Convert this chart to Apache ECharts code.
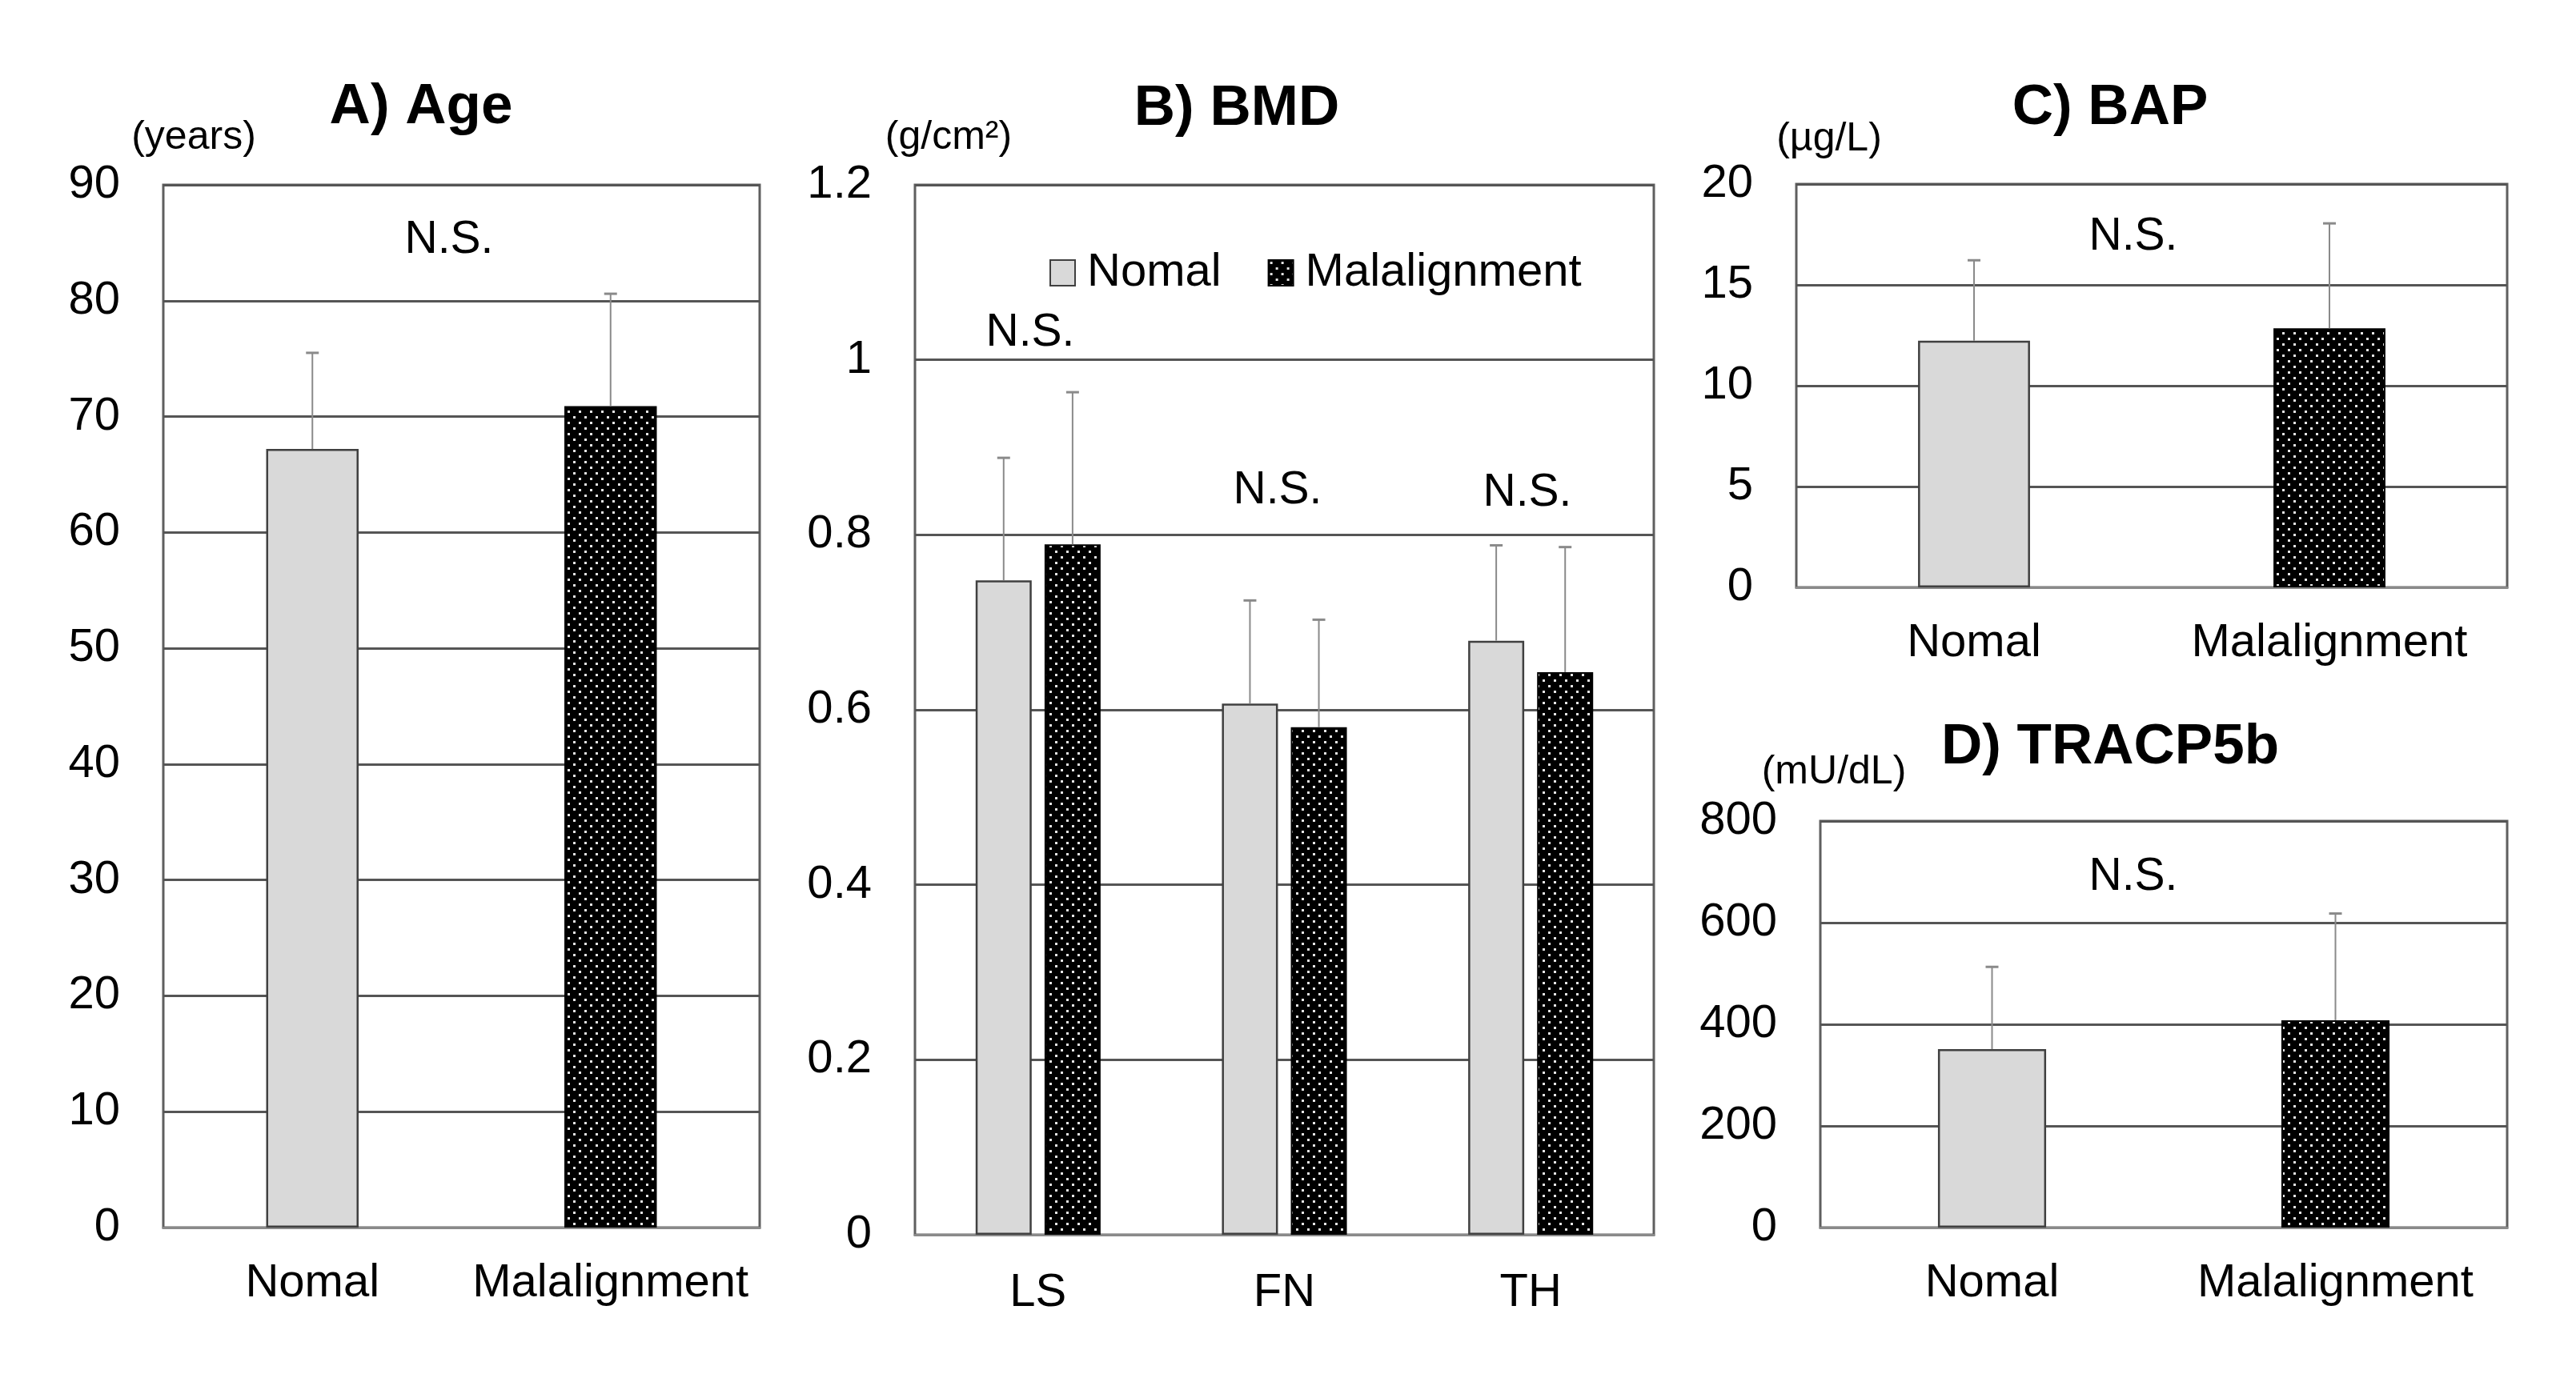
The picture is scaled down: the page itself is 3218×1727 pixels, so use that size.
<!DOCTYPE html>
<html><head><meta charset="utf-8">
<script src="https://cdn.jsdelivr.net/npm/echarts@6/dist/echarts.min.js"></script>
<style>html,body{margin:0;padding:0;background:#fff}#c{width:3218px;height:1727px}</style>
</head><body><div id="c"></div>
<script>
// ---- data ----
const groups = ['Nomal', 'Malalignment'];
const bmdSites = ['LS', 'FN', 'TH'];
const ageMean = [67.2, 70.9];
const ageSD = [8.3, 9.7];
const bmdNomalMean = [0.748, 0.607, 0.679];
const bmdNomalSD = [0.140, 0.118, 0.109];
const bmdMalMean = [0.789, 0.580, 0.643];
const bmdMalSD = [0.174, 0.123, 0.143];
const bapMean = [12.23, 12.85];
const bapSD = [3.99, 5.20];
const tracpMean = [351, 408];
const tracpSD = [162, 210];
const ageTicks = {min: 0, max: 90, interval: 10};
const bmdTicks = {min: 0, max: 1.2, interval: 0.2};
const bapTicks = {min: 0, max: 20, interval: 5};
const tracpTicks = {min: 0, max: 800, interval: 200};

// ---- styles ----
const FONT = '"Liberation Sans", Arial, Helvetica, sans-serif';
const GRID_C = '#555555';
const BORDER_C = '#5f5f5f';
const AXIS_C = '#8a8a8a';
const ERR_C = '#8a8a8a';

function makePattern() {
  const c = document.createElement('canvas');
  c.width = 14; c.height = 14;
  const g = c.getContext('2d');
  g.fillStyle = '#000'; g.fillRect(0, 0, 14, 14);
  g.fillStyle = '#e6e6e6';
  g.fillRect(2, 2, 3, 3);
  g.fillRect(9, 9, 3, 3);
  return c;
}
const pattern = {image: makePattern(), repeat: 'repeat'};
const nomalStyle = {color: '#d9d9d9', borderColor: '#404040', borderWidth: 2.5};
const malStyle = {color: pattern, borderColor: '#000', borderWidth: 2};

const chart = echarts.init(document.getElementById('c'), null, {renderer: 'canvas'});

const grids = [
  {left: 204, top: 231, width: 745, height: 1303},
  {left: 1143, top: 231, width: 923, height: 1312},
  {left: 2244, top: 230, width: 888, height: 504},
  {left: 2274, top: 1026, width: 858, height: 508}
];

function xAxis(i, cats, margin) {
  return {
    type: 'category', gridIndex: i, data: cats,
    axisTick: {show: false},
    axisLine: {show: true, lineStyle: {color: AXIS_C, width: 3}},
    axisLabel: {fontSize: 58, color: '#000', fontFamily: FONT, margin: margin, interval: 0}
  };
}
function yAxis(i, t) {
  return {
    type: 'value', gridIndex: i, min: t.min, max: t.max, interval: t.interval,
    axisLine: {show: false}, axisTick: {show: false},
    splitLine: {show: true, lineStyle: {color: GRID_C, width: 3}},
    axisLabel: {fontSize: 58, color: '#000', fontFamily: FONT, margin: 54}
  };
}
function errRender(offset) {
  return function (params, api) {
    const i = api.value(0), m = api.value(1), s = api.value(2);
    const p0 = api.coord([i, m]);
    const p1 = api.coord([i, m + s]);
    const x = p0[0] + offset;
    return {
      type: 'group', children: [
        {type: 'line', shape: {x1: x, y1: p0[1], x2: x, y2: p1[1]}, style: {stroke: ERR_C, lineWidth: 2}},
        {type: 'line', shape: {x1: x - 8, y1: p1[1], x2: x + 8, y2: p1[1]}, style: {stroke: ERR_C, lineWidth: 3}}
      ]
    };
  };
}
function errSeries(i, means, sds, offset) {
  return {
    type: 'custom', xAxisIndex: i, yAxisIndex: i, z: 5, silent: true,
    renderItem: errRender(offset || 0),
    encode: {x: 0, y: 1},
    data: means.map((m, k) => [k, m, sds[k]])
  };
}
function pairBars(i, means, width) {
  return {
    type: 'bar', xAxisIndex: i, yAxisIndex: i, barWidth: width,
    data: means.map((m, k) => ({value: m, itemStyle: k === 0 ? nomalStyle : malStyle}))
  };
}

const bmdBarW = 70;
const bmdGapPct = 23;
const bmdOff = (bmdBarW + bmdBarW * bmdGapPct / 100) / 2;

const texts = [
  {t: 'A) Age', x: 526, y: 134, s: 71, b: true},
  {t: '(years)', x: 242, y: 172, s: 50},
  {t: 'N.S.', x: 561, y: 300, s: 57},
  {t: 'B) BMD', x: 1545, y: 136, s: 71, b: true},
  {t: '(g/cm\u00B2)', x: 1185, y: 172, s: 50},
  {t: 'N.S.', x: 1287, y: 416, s: 57},
  {t: 'N.S.', x: 1596, y: 613, s: 57},
  {t: 'N.S.', x: 1908, y: 616, s: 57},
  {t: 'C) BAP', x: 2636, y: 135, s: 71, b: true},
  {t: '(\u00B5g/L)', x: 2285, y: 174, s: 50},
  {t: 'N.S.', x: 2665, y: 296, s: 57},
  {t: 'D) TRACP5b', x: 2636, y: 934, s: 71, b: true},
  {t: '(mU/dL)', x: 2291, y: 965, s: 50},
  {t: 'N.S.', x: 2665, y: 1096, s: 57}
];

chart.setOption({
  backgroundColor: '#fff',
  animation: false,
  grid: grids.map(g => Object.assign({show: true, borderColor: BORDER_C, borderWidth: 3, backgroundColor: 'transparent'}, g)),
  xAxis: [xAxis(0, groups, 41), xAxis(1, bmdSites, 44), xAxis(2, groups, 41), xAxis(3, groups, 41)],
  yAxis: [yAxis(0, ageTicks), yAxis(1, bmdTicks), yAxis(2, bapTicks), yAxis(3, tracpTicks)],
  legend: {
    left: 1306, top: 307, itemWidth: 31, itemHeight: 32, itemGap: 58,
    icon: 'rect',
    data: ['Nomal', 'Malalignment'],
    textStyle: {fontSize: 58, color: '#000', fontFamily: FONT, padding: [0, 0, 0, 10]}
  },
  series: [
    pairBars(0, ageMean, '31%'),
    errSeries(0, ageMean, ageSD),
    {name: 'Nomal', type: 'bar', xAxisIndex: 1, yAxisIndex: 1, barWidth: bmdBarW, barGap: bmdGapPct + '%',
      itemStyle: nomalStyle, data: bmdNomalMean},
    {name: 'Malalignment', type: 'bar', xAxisIndex: 1, yAxisIndex: 1, barWidth: bmdBarW, barGap: bmdGapPct + '%',
      itemStyle: malStyle, data: bmdMalMean},
    errSeries(1, bmdNomalMean, bmdNomalSD, -bmdOff),
    errSeries(1, bmdMalMean, bmdMalSD, bmdOff),
    pairBars(2, bapMean, '31.5%'),
    errSeries(2, bapMean, bapSD),
    pairBars(3, tracpMean, '31.5%'),
    errSeries(3, tracpMean, tracpSD)
  ],
  graphic: texts.map(o => ({
    type: 'text', x: o.x, y: o.y, silent: true,
    style: {text: o.t, fontSize: o.s, fontWeight: o.b ? 'bold' : 'normal', fontFamily: FONT,
      fill: '#000', align: 'center', verticalAlign: 'middle'}
  }))
});
</script>
</body></html>
